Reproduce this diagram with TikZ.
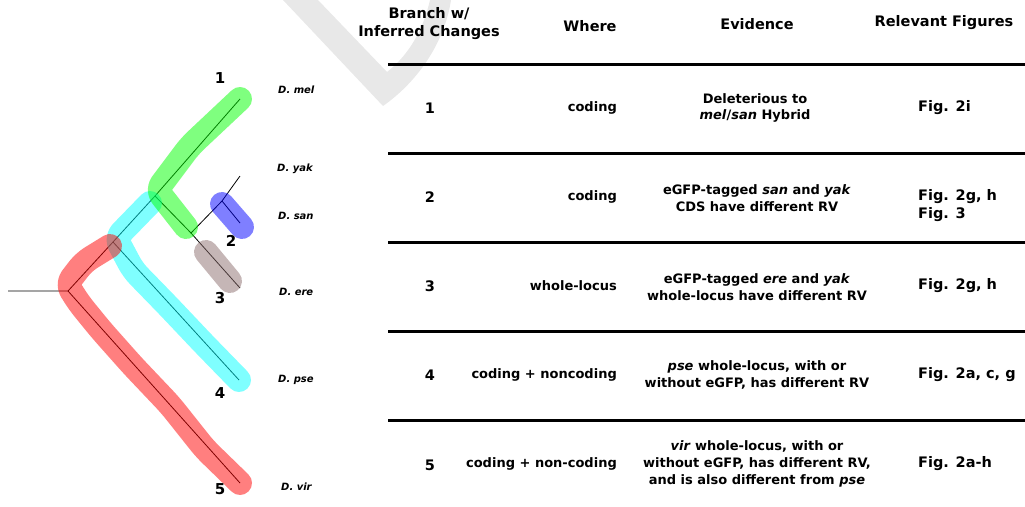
\documentclass[tikz,border=0pt]{standalone}
\usepackage{fontspec}
\setmainfont{DejaVu Sans}
\usetikzlibrary{calc}

\definecolor{hlbrown}{RGB}{140,110,110}
\definecolor{hlcyan}{RGB}{0,255,255}
\definecolor{hlgreen}{RGB}{0,255,0}
\definecolor{wmgray}{RGB}{232,232,232}

\tikzset{
  hl/.style={line width=24pt, line cap=round, line join=round,
             rounded corners=8pt, opacity=0.5},
  branch/.style={line width=0.8pt},
  tiplab/.style={anchor=west, inner sep=0pt,
                 font=\fontsize{10}{12}\selectfont\bfseries\itshape},
  brnum/.style={inner sep=0pt, font=\fontsize{15}{18}\selectfont\bfseries},
  head/.style={align=center, inner sep=0pt,
               font=\fontsize{14.5}{18}\selectfont\bfseries},
  rownum/.style={inner sep=0pt, font=\fontsize{14.5}{18}\selectfont\bfseries},
  where/.style={anchor=east, inner sep=0pt,
                font=\fontsize{13}{16.5}\selectfont\bfseries},
  evid/.style={align=center, inner sep=0pt,
               font=\fontsize{13}{16.8}\selectfont\bfseries},
  figs/.style={anchor=west, align=left, inner sep=0pt,
               font=\fontsize{14.5}{18}\selectfont\bfseries},
  rule/.style={line width=3pt}
}

\begin{document}
\begin{tikzpicture}[x=1pt, y=-1pt]
  \useasboundingbox (0,0) rectangle (1025,506);
  % watermark
  \fill[wmgray] (283,0) -- (318,0) -- (387,72)
        .. controls (405,58) and (422,35) .. (430,0) -- (451,0)
        .. controls (445,40) and (420,80) .. (383,106) -- cycle;

  % tree points
  \coordinate (root) at (8,291);
  \coordinate (nA)   at (68,291);
  \coordinate (nB)   at (113,242);
  \coordinate (nC)   at (155,196);
  \coordinate (nD)   at (191,233);
  \coordinate (nE)   at (222,201);
  \coordinate (mel)  at (240,99);
  \coordinate (yak)  at (240,176);
  \coordinate (san)  at (240,223);
  \coordinate (ere)  at (240,288);
  \coordinate (pse)  at (239,380);
  \coordinate (vir)  at (240,483);

  % draw branches
  \draw[branch] (root) -- (nA) -- (nB) -- (nC) -- (mel);
  \draw[branch] (nC) -- (nD) -- (nE) -- (yak);
  \draw[branch] (nE) -- (san);
  \draw[branch] (nD) -- (ere);
  \draw[branch] (nB) -- (pse);
  \draw[branch] (nA) -- (vir);

  % draw highlights
  \draw[hl, hlcyan]  (150,203) -- (116,238) -- (133,270) -- (168,306)
                     -- (203,343) -- (pse);
  \draw[hl, hlgreen] (mel) -- (190,146) -- (157,190) -- (186,227);
  \draw[hl, red]     (110,246) -- (84,262) -- (67,284) -- (79,303)
                     -- (101,330) -- (133,366) -- (170,405) -- (205,449)
                     -- (vir);
  \draw[hl, blue]    (222,204) -- (242,227);
  \draw[hl, hlbrown] (206,252) -- (230,281);

  % branch numbers
  \node[brnum] (b1) at (220,78)  {1};
  \node[brnum] (b2) at (231,241) {2};
  \node[brnum] (b3) at (220,298) {3};
  \node[brnum] (b4) at (220,393) {4};
  \node[brnum] (b5) at (220,489) {5};

  % species
  \node[tiplab] (lmel) at (278,90)  {D. mel};
  \node[tiplab] (lyak) at (277,169) {D. yak};
  \node[tiplab] (lsan) at (278,216) {D. san};
  \node[tiplab] (lere) at (279,292) {D. ere};
  \node[tiplab] (lpse) at (278,380) {D. pse};
  \node[tiplab] (lvir) at (281,487) {D. vir};

  % table header
  \node[head] (hbranch) at (429,24)  {Branch w/\\Inferred Changes};
  \node[head] (hwhere)  at (590,26)  {Where};
  \node[head] (hevid)   at (757,24)  {Evidence};
  \node[head] (hfigs)   at (944,23)  {Relevant Figures};

  % table rules
  \foreach \y in {64,153,242,331,420}
    \draw[rule] (388,\y) -- (1025,\y);

  % rows
  \node[rownum] (r1) at (430,108) {1};
  \node[rownum] (r2) at (430,197) {2};
  \node[rownum] (r3) at (430,286) {3};
  \node[rownum] (r4) at (430,375) {4};
  \node[rownum] (r5) at (430,465) {5};

  \node[where] (w1) at (617,108) {coding};
  \node[where] (w2) at (617,197) {coding};
  \node[where] (w3) at (617,286) {whole-locus};
  \node[where] (w4) at (617,375) {coding + noncoding};
  \node[where] (w5) at (617,464) {coding + non-coding};

  \node[evid] (e1) at (755,108) {Deleterious to\\\textit{mel}/\textit{san} Hybrid};
  \node[evid] (e2) at (757,198) {eGFP-tagged \textit{san} and \textit{yak}\\CDS have different RV};
  \node[evid] (e3) at (757,287) {eGFP-tagged \textit{ere} and \textit{yak}\\whole-locus have different RV};
  \node[evid] (e4) at (757,375) {\textit{pse} whole-locus, with or\\without eGFP, has different RV};
  \node[evid] (e5) at (757,464) {\textit{vir} whole-locus, with or\\without eGFP, has different RV,\\and is also different from \textit{pse}};

  \node[figs] (f1) at (918,108) {Fig. 2i};
  \node[figs] (f2) at (918,206) {Fig. 2g, h\\Fig. 3};
  \node[figs] (f3) at (918,286) {Fig. 2g, h};
  \node[figs] (f4) at (918,375) {Fig. 2a, c, g};
  \node[figs] (f5) at (918,464) {Fig. 2a-h};
\end{tikzpicture}
\end{document}
